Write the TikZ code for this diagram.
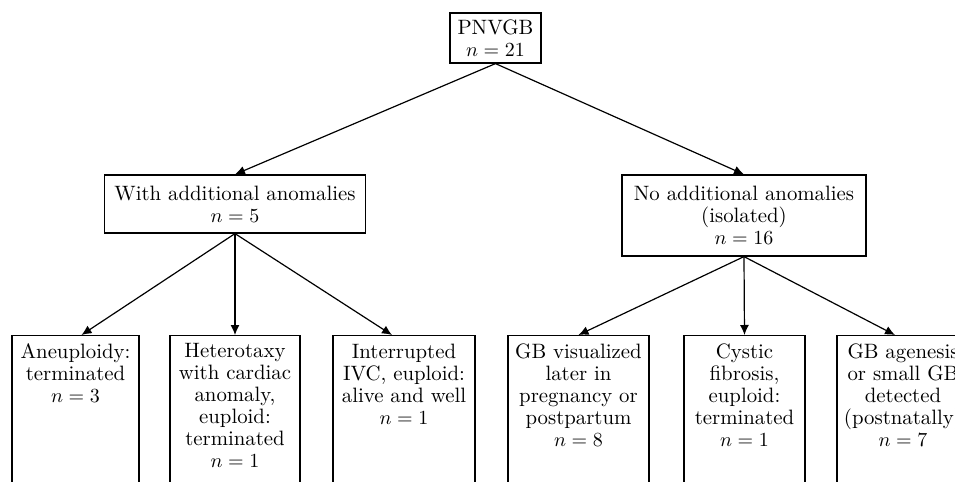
\documentclass[tikz,border=0pt]{standalone}
\usetikzlibrary{arrows.meta}
\tikzset{
  box/.style={draw,line width=0.6pt,align=center,inner sep=0pt},
  leaf/.style={box,anchor=north,inner ysep=4pt,text depth=80pt},
  link/.style={->,line width=0.6pt}
}
\begin{document}
\begin{tikzpicture}[x=0.5pt,y=-0.5pt,font=\fontsize{10.4}{11}\selectfont,>={Latex[length=5pt,width=4.5pt]}]
\path[use as bounding box,clip] (0,0) rectangle (955,482);
%\node at (480,5) {PNVGB tree};
\node[box,minimum width=45.5pt,minimum height=25pt] (root) at (495.5,38) {PNVGB\\$n=21$};
\node[box,minimum width=130.5pt,minimum height=29pt] (withA) at (235,204) {With additional anomalies\\$n=5$};
\node[box,minimum width=122pt,minimum height=40.5pt] (noA) at (744,215.5) {No additional anomalies\\(isolated)\\$n=16$};
\node[leaf,minimum width=63.5pt] (aneu) at (75.5,335) {Aneuploidy:\\terminated\\$n=3$};
\node[leaf,minimum width=65pt] (hetero) at (235,335) {Heterotaxy\\with cardiac\\anomaly,\\euploid:\\terminated\\$n=1$};
\node[leaf,minimum width=71pt] (ivc) at (404,335) {Interrupted\\IVC, euploid:\\alive and well\\$n=1$};
\node[leaf,minimum width=70.5pt] (gbvis) at (578.5,335) {GB visualized\\later in\\pregnancy or\\postpartum\\$n=8$};
\node[leaf,minimum width=60.5pt] (cystic) at (744.5,335) {Cystic\\fibrosis,\\euploid:\\terminated\\$n=1$};
\node[leaf,minimum width=66pt] (agen) at (903,335) {GB agenesis\\or small GB\\detected\\(postnatally)\\$n=7$};
\draw[link] (root.south) -- (withA.north);\draw[link] (root.south) -- (noA.north);
\draw[link] (withA.south) -- ([xshift=3pt]aneu.north); \draw[link] (withA.south) -- (hetero.north);
\draw[link] (withA.south) -- ([xshift=-6pt]ivc.north);
\draw[link] (noA.south) -- (gbvis.north); \draw[link] (noA.south) -- (cystic.north);
\draw[link] (noA.south) -- ([xshift=-4pt]agen.north);
\end{tikzpicture}
\end{document}
